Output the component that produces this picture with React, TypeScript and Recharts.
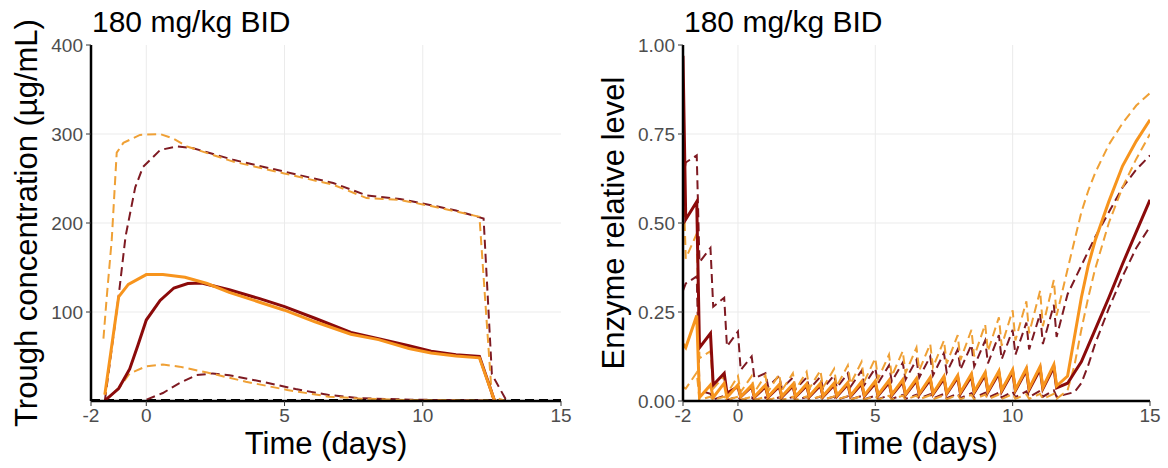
import React from 'react';
import { LineChart, Line, XAxis, YAxis, CartesianGrid, ReferenceLine } from 'recharts';

// ---------- Left panel: trough concentration ----------
const orangeSolidX = [-1.5, -1.0, -0.65, 0, 0.6, 1.4, 2.2, 3.0, 4.1, 5.0, 6.1, 7.4, 8.4, 9.5, 10.3, 11.2, 12.05, 12.6];
const orangeSolidY = [7, 117, 131, 142, 142, 139, 132, 122, 111, 102, 89, 75, 69, 59, 54, 50.5, 48.5, 0];

const darkSolidX = [-1.5, -1.0, -0.6, -0.3, 0, 0.5, 1.0, 1.5, 2.0, 3.0, 4.1, 5.0, 6.1, 7.4, 8.4, 9.5, 10.3, 11.2, 12.05, 12.6];
const darkSolidY = [0.5, 14, 36, 63, 91, 113, 127, 132, 132.5, 125, 115, 106, 93, 77, 70, 62, 56, 52, 50, 0];

const orangeUpperX = [-1.55, -1.43, -1.25, -1.07, -0.83, -0.23, 0.5, 0.97, 1.47, 3.14, 4.95, 6.76, 7.97, 9.17, 10.3, 11.2, 12.05, 12.5, 13.0];
const orangeUpperY = [70, 117, 181, 279, 290, 299, 300, 295, 286, 269, 256, 243, 228, 226, 219, 213, 207, 5, 0];

const darkUpperX = [-1.5, -1.0, -0.75, -0.4, -0.12, 0.5, 1.1, 1.7, 3.14, 4.95, 6.76, 7.97, 9.17, 10.3, 11.2, 12.2, 12.5, 13.0];
const darkUpperY = [0, 118, 185, 240, 263, 282, 286, 284, 271, 258, 245, 231, 227, 220, 214, 205, 30, 2];

const orangeLowerX = [-1.5, -0.95, -0.6, 0, 0.6, 1.2, 2.2, 3.6, 5.1, 6.6, 7.8, 9.6, 12.5, 13.0];
const orangeLowerY = [0, 16, 31, 39, 41, 38.6, 32, 21.7, 12.4, 4.9, 2.6, 1, 0.5, 0];

const darkLowerX = [-1.5, -0.12, 0.6, 1.2, 1.8, 2.4, 3.0, 4.2, 5.4, 6.6, 7.8, 9.6, 12.5, 13.0];
const darkLowerY = [0, 0, 9, 20, 29, 31, 29, 21.7, 13.4, 6.7, 3, 1.5, 0.5, 0];

const concYTicks = [100, 200, 300, 400];
const timeTicks = [-2, 0, 5, 10, 15];
const lloqLevel = 1;

// ---------- Right panel: enzyme relative level ----------
const enzTime = [
  -2, -1.9, -1.5, -1.4, -1.0, -0.9, -0.5, -0.4,
  0, 0.1, 0.5, 0.6, 1.0, 1.1, 1.5, 1.6, 2.0, 2.1, 2.5, 2.6, 3.0, 3.1, 3.5, 3.6,
  4.0, 4.1, 4.5, 4.6, 5.0, 5.1, 5.5, 5.6, 6.0, 6.1, 6.5, 6.6, 7.0, 7.1, 7.5, 7.6,
  8.0, 8.1, 8.5, 8.6, 9.0, 9.1, 9.5, 9.6, 10.0, 10.1, 10.5, 10.6, 11.0, 11.1, 11.5, 11.6,
  12.0, 12.25, 12.5, 12.75, 13.0, 13.5, 14.0, 14.5, 15.0,
];

const enzOrangeSolid = [
  0.16, 0.15, 0.24, 0.01, 0.045, 0.01, 0.05, 0.01,
  0.045, 0.012, 0.044, 0.012, 0.045, 0.012, 0.046, 0.013, 0.047, 0.013, 0.048, 0.014, 0.049, 0.014, 0.05, 0.015,
  0.052, 0.015, 0.054, 0.016, 0.056, 0.017, 0.058, 0.018, 0.06, 0.019, 0.063, 0.02, 0.066, 0.021, 0.069, 0.022,
  0.072, 0.024, 0.076, 0.026, 0.08, 0.028, 0.084, 0.03, 0.088, 0.032, 0.092, 0.035, 0.097, 0.038, 0.102, 0.042,
  0.07, 0.18, 0.29, 0.38, 0.45, 0.56, 0.66, 0.73, 0.79,
];

const enzDarkSolid = [
  0.97, 0.51, 0.56, 0.15, 0.19, 0.045, 0.078, 0.022,
  0.04, 0.012, 0.04, 0.011, 0.04, 0.011, 0.041, 0.011, 0.042, 0.012, 0.043, 0.012, 0.044, 0.012, 0.045, 0.013,
  0.047, 0.013, 0.048, 0.014, 0.05, 0.015, 0.052, 0.016, 0.054, 0.017, 0.057, 0.018, 0.06, 0.019, 0.063, 0.02,
  0.066, 0.021, 0.07, 0.023, 0.074, 0.025, 0.078, 0.027, 0.082, 0.029, 0.086, 0.031, 0.09, 0.034, 0.095, 0.037,
  0.05, 0.08, 0.11, 0.155, 0.2, 0.29, 0.385, 0.475, 0.565,
];

const enzOrangeUpper = [
  0.66, 0.4, 0.47, 0.12, 0.14, 0.035, 0.07, 0.02,
  0.07, 0.025, 0.07, 0.025, 0.072, 0.027, 0.075, 0.03, 0.078, 0.032, 0.082, 0.035, 0.086, 0.038, 0.09, 0.042,
  0.1, 0.048, 0.11, 0.055, 0.12, 0.062, 0.13, 0.07, 0.14, 0.078, 0.15, 0.086, 0.16, 0.095, 0.17, 0.105,
  0.185, 0.115, 0.2, 0.125, 0.215, 0.14, 0.235, 0.155, 0.255, 0.17, 0.28, 0.19, 0.31, 0.21, 0.34, 0.24,
  0.37, 0.45, 0.53, 0.59, 0.64, 0.72, 0.78, 0.83, 0.865,
];

const enzDarkUpper = [
  0.62, 0.67, 0.69, 0.39, 0.43, 0.265, 0.29, 0.153,
  0.195, 0.087, 0.125, 0.064, 0.078, 0.04, 0.07, 0.035, 0.066, 0.033, 0.066, 0.033, 0.068, 0.035, 0.072, 0.037,
  0.078, 0.04, 0.085, 0.045, 0.092, 0.05, 0.1, 0.055, 0.108, 0.06, 0.116, 0.066, 0.125, 0.072, 0.135, 0.08,
  0.145, 0.088, 0.158, 0.097, 0.17, 0.106, 0.185, 0.117, 0.2, 0.13, 0.22, 0.145, 0.245, 0.16, 0.27, 0.18,
  0.3, 0.34, 0.38, 0.42, 0.46, 0.53, 0.6, 0.65, 0.69,
];

const enzOrangeLower = [
  0.04, 0.035, 0.08, 0.003, 0.012, 0.003, 0.012, 0.003,
  0.012, 0.003, 0.012, 0.003, 0.012, 0.003, 0.012, 0.003, 0.012, 0.003, 0.013, 0.003, 0.013, 0.003, 0.013, 0.004,
  0.014, 0.004, 0.014, 0.004, 0.014, 0.004, 0.015, 0.004, 0.015, 0.004, 0.015, 0.005, 0.016, 0.005, 0.016, 0.005,
  0.017, 0.005, 0.017, 0.005, 0.018, 0.005, 0.018, 0.006, 0.019, 0.006, 0.019, 0.006, 0.02, 0.006, 0.02, 0.006,
  0.03, 0.1, 0.2, 0.29, 0.37, 0.5, 0.6, 0.68, 0.75,
];

const enzDarkLower = [
  0.31, 0.33, 0.35, 0.03, 0.02, 0.004, 0.015, 0.003,
  0.012, 0.003, 0.01, 0.003, 0.01, 0.003, 0.01, 0.003, 0.011, 0.003, 0.011, 0.004, 0.012, 0.004, 0.012, 0.004,
  0.013, 0.005, 0.014, 0.005, 0.015, 0.005, 0.016, 0.006, 0.017, 0.006, 0.018, 0.007, 0.019, 0.007, 0.02, 0.008,
  0.021, 0.008, 0.022, 0.009, 0.023, 0.009, 0.024, 0.01, 0.026, 0.011, 0.027, 0.011, 0.029, 0.012, 0.03, 0.012,
  0.02, 0.025, 0.05, 0.1, 0.16, 0.26, 0.35, 0.43, 0.49,
];

const enzYTicks = [0, 0.25, 0.5, 0.75, 1.0];

// ---------- styling ----------
const FONT = '"Liberation Sans", Arial, Helvetica, sans-serif';
const DARK = '#8B0A0A';
const ORANGE = '#F7941D';
const DARK_D = '#7E1A22';
const ORANGE_D = '#EFA035';
const DASH = '9 5';

const zip = (xs: number[], ys: number[]) => xs.map((x, i) => ({ x, y: ys[i] }));

const enzRows = enzTime.map((t, i) => ({
  x: t,
  os: enzOrangeSolid[i],
  ds: enzDarkSolid[i],
  ou: enzOrangeUpper[i],
  du: enzDarkUpper[i],
  ol: enzOrangeLower[i],
  dl: enzDarkLower[i],
}));

const tickStyle = { fill: '#4D4D4D', fontSize: 19, fontFamily: FONT };
const axisLine = { stroke: '#000', strokeWidth: 2.5 };
const tickLine = { stroke: '#333', strokeWidth: 1 };

function LeftChart() {
  return (
    <LineChart width={584} height={468} margin={{ top: 45, right: 23, bottom: 37, left: 31 }}>
      <CartesianGrid stroke="#EBEBEB" strokeWidth={1} verticalValues={[0, 5, 10]} horizontalValues={[100, 200, 300]} />
      <XAxis type="number" dataKey="x" domain={[-2, 15]} ticks={timeTicks} allowDataOverflow
        height={30} tick={tickStyle} axisLine={axisLine} tickLine={tickLine} tickSize={5} tickMargin={3} />
      <YAxis type="number" domain={[0, 400]} ticks={concYTicks} allowDataOverflow width={60}
        tick={tickStyle} axisLine={axisLine} tickLine={tickLine} tickSize={5} tickMargin={3} />
      <ReferenceLine y={lloqLevel} stroke="#000" strokeWidth={2} strokeDasharray={DASH} />
      <Line data={zip(darkUpperX, darkUpperY)} dataKey="y" type="linear" stroke={DARK_D} strokeWidth={2} strokeDasharray={DASH} dot={false} isAnimationActive={false} />
      <Line data={zip(darkLowerX, darkLowerY)} dataKey="y" type="linear" stroke={DARK_D} strokeWidth={2} strokeDasharray={DASH} dot={false} isAnimationActive={false} />
      <Line data={zip(orangeUpperX, orangeUpperY)} dataKey="y" type="linear" stroke={ORANGE_D} strokeWidth={2} strokeDasharray={DASH} dot={false} isAnimationActive={false} />
      <Line data={zip(orangeLowerX, orangeLowerY)} dataKey="y" type="linear" stroke={ORANGE_D} strokeWidth={2} strokeDasharray={DASH} dot={false} isAnimationActive={false} />
      <Line data={zip(darkSolidX, darkSolidY)} dataKey="y" type="linear" stroke={DARK} strokeWidth={3} dot={false} isAnimationActive={false} />
      <Line data={zip(orangeSolidX, orangeSolidY)} dataKey="y" type="linear" stroke={ORANGE} strokeWidth={3} dot={false} isAnimationActive={false} />
    </LineChart>
  );
}

function RightChart() {
  return (
    <LineChart width={584} height={468} data={enzRows} margin={{ top: 45, right: 18, bottom: 37, left: 39 }}>
      <CartesianGrid stroke="#EBEBEB" strokeWidth={1} verticalValues={[0, 5, 10]} horizontalValues={[0.25, 0.5, 0.75]} />
      <XAxis type="number" dataKey="x" domain={[-2, 15]} ticks={timeTicks} allowDataOverflow
        height={30} tick={tickStyle} axisLine={axisLine} tickLine={tickLine} tickSize={5} tickMargin={3} />
      <YAxis type="number" domain={[0, 1]} ticks={enzYTicks} allowDataOverflow width={60}
        tickFormatter={(v: number) => v.toFixed(2)}
        tick={tickStyle} axisLine={axisLine} tickLine={tickLine} tickSize={5} tickMargin={3} />
      <Line dataKey="du" type="linear" stroke={DARK_D} strokeWidth={2} strokeDasharray={DASH} dot={false} isAnimationActive={false} />
      <Line dataKey="dl" type="linear" stroke={DARK_D} strokeWidth={2} strokeDasharray={DASH} dot={false} isAnimationActive={false} />
      <Line dataKey="ou" type="linear" stroke={ORANGE_D} strokeWidth={2} strokeDasharray={DASH} dot={false} isAnimationActive={false} />
      <Line dataKey="ol" type="linear" stroke={ORANGE_D} strokeWidth={2} strokeDasharray={DASH} dot={false} isAnimationActive={false} />
      <Line dataKey="ds" type="linear" stroke={DARK} strokeWidth={3} dot={false} isAnimationActive={false} />
      <Line dataKey="os" type="linear" stroke={ORANGE} strokeWidth={3} dot={false} isAnimationActive={false} />
    </LineChart>
  );
}

export default function App() {
  return (
    <div style={{ position: 'relative', width: 1168, height: 468, background: '#fff', fontFamily: FONT }}>
      <style>{'body{margin:0;}'}</style>
      <div style={{ position: 'absolute', left: 0, top: 0 }}><LeftChart /></div>
      <div style={{ position: 'absolute', left: 584, top: 0 }}><RightChart /></div>
      <svg width={1168} height={468} style={{ position: 'absolute', left: 0, top: 0, pointerEvents: 'none' }}>
        <g fontFamily={FONT} fill="#000">
          <text x={92} y={32} fontSize={30}>180 mg/kg BID</text>
          <text x={684} y={32} fontSize={30}>180 mg/kg BID</text>
          <text x={326} y={454} fontSize={31} textAnchor="middle">Time (days)</text>
          <text x={916.5} y={454} fontSize={31} textAnchor="middle">Time (days)</text>
          <text transform="translate(37,223) rotate(-90)" fontSize={31} textAnchor="middle">Trough concentration (µg/mL)</text>
          <text transform="translate(624,223) rotate(-90)" fontSize={31} textAnchor="middle">Enzyme relative level</text>
        </g>
      </svg>
    </div>
  );
}
